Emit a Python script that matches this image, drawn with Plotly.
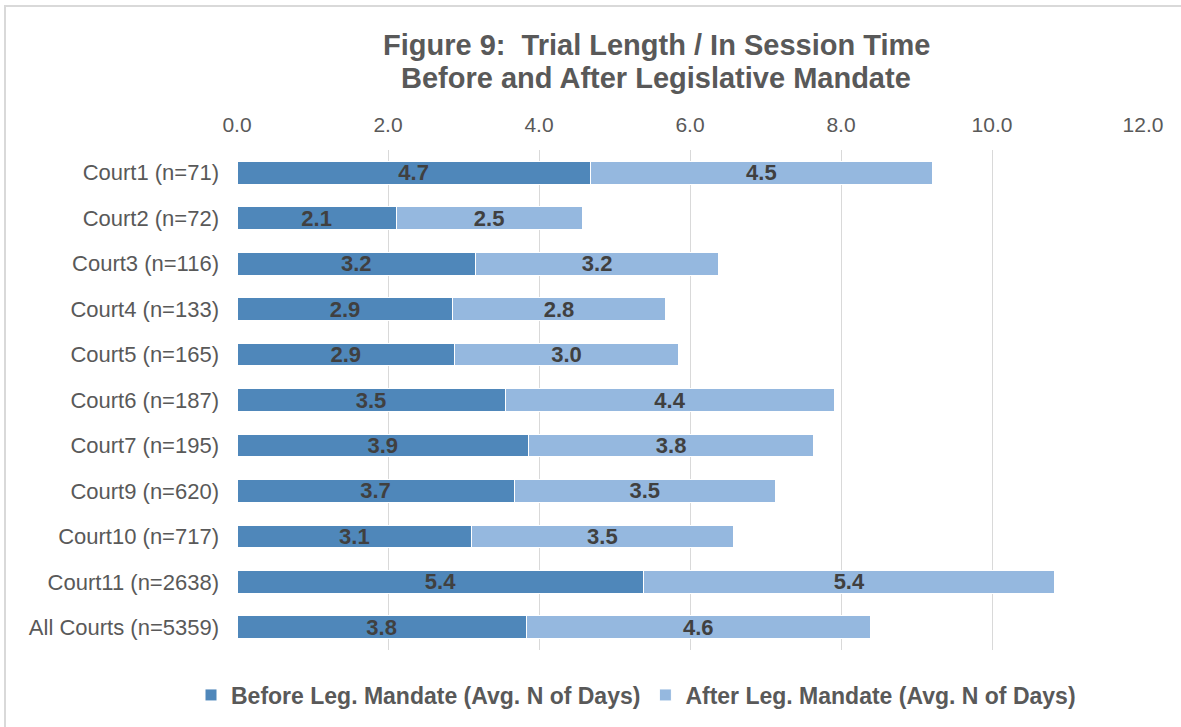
import plotly.graph_objects as go

categories = ["Court1 (n=71)", "Court2 (n=72)", "Court3 (n=116)", "Court4 (n=133)",
              "Court5 (n=165)", "Court6 (n=187)", "Court7 (n=195)", "Court9 (n=620)",
              "Court10 (n=717)", "Court11 (n=2638)", "All Courts (n=5359)"]
before = [4.68, 2.11, 3.16, 2.86, 2.88, 3.55, 3.86, 3.67, 3.11, 5.39, 3.83]
after = [4.53, 2.46, 3.22, 2.81, 2.97, 4.37, 3.78, 3.46, 3.46, 5.44, 4.56]
tick_vals = [0, 2, 4, 6, 8, 10, 12]
tick_text = ["0.0", "2.0", "4.0", "6.0", "8.0", "10.0", "12.0"]
title_lines = ["Figure 9:  Trial Length / In Session Time",
               "Before and After Legislative Mandate"]

FONT = "Liberation Sans, Arial, sans-serif"
W, H = 1181, 727
L, R, T, B = 237, 38, 150, 77
pw, ph = W - L - R, H - T - B

def px(x):
    return (x - L) / pw

def py(y):
    return (H - B - y) / ph

fig = go.Figure()
for vals, name, col in [(before, "Before Leg. Mandate (Avg. N of Days)", "#4F87BA"),
                        (after, "After Leg. Mandate (Avg. N of Days)", "#95B8DF")]:
    fig.add_trace(go.Bar(
        y=categories, x=vals, orientation="h", name=name,
        marker=dict(color=col, line=dict(color="#FFFFFF", width=1)),
        texttemplate="%{x:.1f}", textposition="inside", insidetextanchor="middle",
        constraintext="none",
        textfont=dict(family=FONT, size=22, color="#404040", weight="bold"),
    ))

annotations = []
for i, line in enumerate(title_lines):
    annotations.append(dict(
        text="<b>" + line + "</b>", showarrow=False,
        xref="paper", yref="paper", x=px(656), y=py(45 + 33 * i),
        xanchor="center", yanchor="middle",
        font=dict(family=FONT, size=29, color="#595959"),
    ))

fig.update_layout(
    width=W, height=H,
    barmode="stack", bargap=0.5,
    margin=dict(l=L, r=R, t=T, b=B, autoexpand=False),
    paper_bgcolor="white", plot_bgcolor="white",
    font=dict(family=FONT, color="#595959"),
    annotations=annotations,
    xaxis=dict(
        side="top", range=[0, 12], tickvals=tick_vals, ticktext=tick_text,
        showgrid=True, gridcolor="#D9D9D9", gridwidth=1,
        zeroline=False, showline=False, ticks="", ticklabelstandoff=13,
        tickfont=dict(family=FONT, size=21, color="#595959"),
    ),
    yaxis=dict(
        autorange="reversed", showgrid=False, showline=False, ticks="",
        ticklabelstandoff=17,
        tickfont=dict(family=FONT, size=22, color="#595959"),
    ),
    legend=dict(
        orientation="h", xref="container", x=636 / W, xanchor="center",
        yref="container", y=1 - 695 / H, yanchor="middle",
        font=dict(family=FONT, size=23, color="#595959", weight="bold"),
        traceorder="normal",
    ),
    shapes=[dict(
        type="rect", xref="paper", yref="paper",
        x0=px(5), x1=px(1200), y0=py(745), y1=py(6),
        line=dict(color="#D9D9D9", width=2), layer="below",
    )],
)

fig.write_html("out.html", config={"displayModeBar": False},
               post_script="document.body.style.margin='0';")
